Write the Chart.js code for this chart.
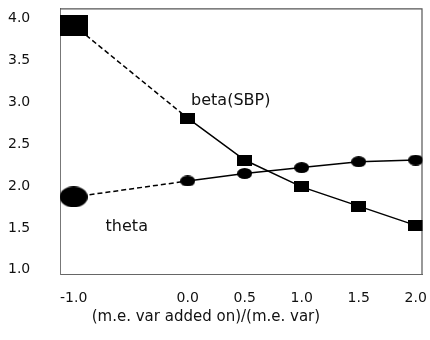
<!DOCTYPE html>
<html>
<head>
<meta charset="utf-8">
<script src="https://cdn.jsdelivr.net/npm/chart.js@4/dist/chart.umd.min.js"></script>
<style>
  html, body { margin: 0; padding: 0; background: #fff; }
  #wrap { width: 430px; height: 340px; }
</style>
</head>
<body>
<div id="wrap"><canvas id="plot" width="430" height="340"></canvas></div>
<script>
'use strict';

// measurement-error variance ratio and the two estimates
var xValues = [-1.0, 0.0, 0.5, 1.0, 1.5, 2.0];
var betaSBP = [3.92, 2.81, 2.31, 1.99, 1.76, 1.53];
var theta = [1.87, 2.06, 2.15, 2.22, 2.29, 2.31];
var xTicks = [-1.0, 0.0, 0.5, 1.0, 1.5, 2.0];
var yTicks = [1.0, 1.5, 2.0, 2.5, 3.0, 3.5, 4.0];
var seriesNames = ['beta(SBP)', 'theta'];
var xTitle = '(m.e. var added on)/(m.e. var)';

var FONT = '"DejaVu Sans", Verdana, sans-serif';

// small canvases used as point styles (markers are a little wider than tall)
var makeBox = function (w, h) {
  var c = document.createElement('canvas');
  c.width = w;
  c.height = h;
  var g = c.getContext('2d');
  g.fillStyle = '#000';
  g.fillRect(0, 0, w, h);
  return c;
};

var makeBlob = function (w, h) {
  var c = document.createElement('canvas');
  c.width = w;
  c.height = h;
  var g = c.getContext('2d');
  g.fillStyle = '#000';
  g.beginPath();
  g.ellipse(w / 2, h / 2, w / 2, h / 2, 0, 0, Math.PI * 2);
  g.fill();
  return c;
};

var bigBox = makeBox(29, 21);
var smallBox = makeBox(15, 11);
var bigBlob = makeBlob(28, 21);
var smallBlob = makeBlob(15, 11);

var toPoints = function (ys) {
  var pts = [];
  for (var i = 0; i < xValues.length; i++) {
    pts.push({ x: xValues[i], y: ys[i] });
  }
  return pts;
};

// first step (from -1 to 0) is dashed, the rest solid
var dashFirst = function (ctx) {
  return ctx.p0DataIndex === 0 ? [5, 3] : [];
};

var frameAndLabels = {
  id: 'frameAndLabels',
  beforeDatasetsDraw: function (chart) {
    var a = chart.chartArea;
    var c = chart.ctx;
    c.save();
    c.strokeStyle = '#555';
    c.lineWidth = 1.2;
    c.beginPath();
    c.moveTo(a.left, a.top + 0.5);
    c.lineTo(a.right - 0.5, a.top + 0.5);
    c.lineTo(a.right - 0.5, a.bottom);
    c.stroke();
    c.restore();
  },
  afterDatasetsDraw: function (chart) {
    var x = chart.scales.x;
    var y = chart.scales.y;
    var c = chart.ctx;
    c.save();
    c.fillStyle = '#111';
    c.textBaseline = 'middle';
    c.font = '16px ' + FONT;
    c.textAlign = 'left';
    c.fillText(seriesNames[0], x.getPixelForValue(0.03), y.getPixelForValue(3.02));
    c.fillText(seriesNames[1], x.getPixelForValue(-0.72), y.getPixelForValue(1.51));
    // axis title sits a little left of the plot centre
    c.font = '15px ' + FONT;
    c.textAlign = 'center';
    c.fillText(xTitle, x.getPixelForValue(0.16), chart.height - 23);
    c.restore();
  }
};

var ctx = document.getElementById('plot').getContext('2d');

var myChart = new Chart(ctx, {
  type: 'line',
  data: {
    datasets: [{
      label: seriesNames[0],
      data: toPoints(betaSBP),
      borderColor: '#000',
      borderWidth: 1.5,
      pointStyle: [bigBox, smallBox, smallBox, smallBox, smallBox, smallBox],
      pointRadius: 6,
      segment: { borderDash: dashFirst },
      tension: 0
    }, {
      label: seriesNames[1],
      data: toPoints(theta),
      borderColor: '#000',
      borderWidth: 1.5,
      pointStyle: [bigBlob, smallBlob, smallBlob, smallBlob, smallBlob, smallBlob],
      pointRadius: 6,
      segment: { borderDash: dashFirst },
      tension: 0
    }]
  },
  options: {
    responsive: false,
    animation: false,
    events: [],
    layout: { padding: { top: 0, right: 7, left: 8, bottom: 0 } },
    plugins: {
      legend: { display: false },
      tooltip: { enabled: false }
    },
    scales: {
      x: {
        type: 'linear',
        min: -1.12,
        max: 2.06,
        grid: { display: false },
        border: { display: true, color: '#666', width: 1, dash: [7, 3] },
        afterBuildTicks: function (scale) {
          scale.ticks = xTicks.map(function (v) { return { value: v }; });
        },
        afterFit: function (scale) { scale.height = 66; },
        ticks: {
          autoSkip: false,
          maxRotation: 0,
          padding: 0,
          color: '#111',
          // tall line box pushes the labels down below the axis
          font: { family: FONT, size: 14, lineHeight: '32px' },
          callback: function (v) { return Number(v).toFixed(1); }
        }
      },
      y: {
        type: 'linear',
        min: 0.95,
        max: 4.12,
        grid: { display: false },
        border: { display: true, color: '#777', width: 1, dash: [3, 3] },
        afterBuildTicks: function (scale) {
          scale.ticks = yTicks.map(function (v) { return { value: v }; });
        },
        afterFit: function (scale) { scale.width = 52; },
        ticks: {
          padding: 0,
          crossAlign: 'far',
          color: '#111',
          font: { family: FONT, size: 14 },
          callback: function (v) { return Number(v).toFixed(1); }
        }
      }
    }
  },
  plugins: [frameAndLabels]
});
</script>
</body>
</html>
